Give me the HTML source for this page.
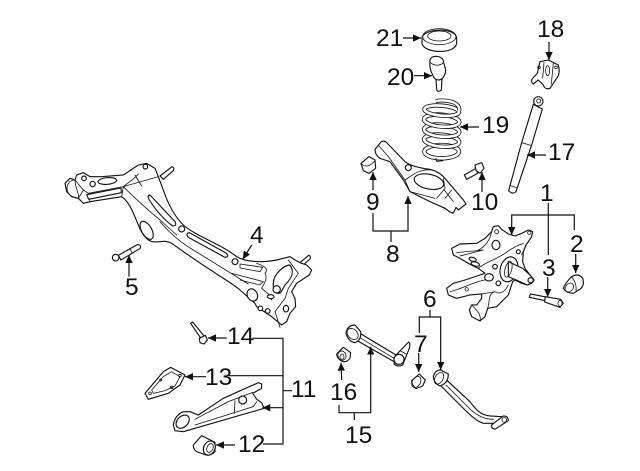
<!DOCTYPE html>
<html><head><meta charset="utf-8"><style>
html,body{margin:0;padding:0;background:#fff}
svg{display:block}
text{font-family:"Liberation Sans",sans-serif;font-size:24.5px;fill:#111}
.z{fill:#fff;stroke:#111;stroke-width:3.4;stroke-linejoin:round;stroke-linecap:round}
.n{fill:none;stroke:#111;stroke-width:2.4;stroke-linejoin:round;stroke-linecap:round}
</style></head><body>
<svg width="640" height="471" viewBox="0 0 640 471" xmlns="http://www.w3.org/2000/svg">
<defs><marker id="a" viewBox="0 0 8 8" refX="8" refY="4" markerWidth="8" markerHeight="8" markerUnits="userSpaceOnUse" orient="auto"><path d="M0,0.3L8,4L0,7.7Z" fill="#111"/></marker></defs>
<rect width="640" height="471" fill="#fff"/>

<!-- crossmember -->
<g transform="translate(50,150) scale(.3333)">
<path class="z" d="M330,78L366,50Q374,52 370,62L340,88Z"/>
<path class="z" d="M742,345L776,316Q784,318 780,327L752,352Z"/>
<path class="z" d="M45,100L60,85L75,90L80,75L100,68L120,80L155,80L220,75L265,45L290,40L315,55L325,80L340,120C355,165 375,200 400,225C440,260 510,280 560,320C590,338 650,340 700,325L720,320L735,330L755,340L770,345L785,360L778,375L740,400L725,425L735,445L737,470L720,490L710,515L695,525L665,500L620,470L615,460L570,420C540,395 510,380 490,365C450,340 400,305 365,280C340,265 320,285 295,270C270,250 265,220 250,190C240,165 230,150 215,140L120,155L100,160L85,145L65,140L50,125Z"/>
</g>
<g transform="translate(60,160) scale(.3333)">
<path class="n" d="M45,60C30,60 18,72 22,92C26,108 40,112 55,115C60,105 45,85 45,60ZM45,60L70,90L85,100L190,80L295,50M90,125L85,100M190,80L185,110M190,80C225,115 270,155 300,180L350,225M225,45L245,78M190,80C215,60 225,55 235,42M70,90L55,115"/>
<path class="z" d="M80,104L183,84L184,98L86,118Z"/>
<ellipse class="z" cx="142" cy="63" rx="28" ry="10" transform="rotate(-5 142 63)"/>
<circle class="z" cx="98" cy="72" r="8"/><circle class="z" cx="72" cy="55" r="7"/><circle class="z" cx="256" cy="20" r="7"/>
<path class="z" d="M270,105L345,185Q352,198 338,198Q300,170 268,120Q260,105 270,105Z"/>
<ellipse class="z" cx="260" cy="211" rx="15" ry="30" transform="rotate(-30 260 211)"/>
</g>
<g transform="translate(50,150) scale(.3333)">
<path class="n" d="M330,215C360,250 395,280 430,300L595,402"/>
<path class="z" d="M418,248L530,310Q538,322 525,322L415,262Q405,250 418,248Z"/>
<circle class="z" cx="395" cy="237" r="9"/>
</g>
<g transform="translate(220,250) scale(.3333)">
<circle class="z" cx="45" cy="35" r="9"/>
<path class="n" d="M60,42L128,52L120,65L60,54ZM35,70L130,95L120,105L60,90M110,40C140,50 145,60 135,70C145,85 130,105 125,115C140,130 150,130 155,150M205,30L235,70L205,115L195,145L165,185L180,232"/>
<path class="z" d="M160,100C160,70 195,45 210,45C225,65 215,85 195,105L182,128C170,135 158,125 160,100Z"/>
<circle class="z" cx="170" cy="118" r="11"/>
<ellipse class="z" cx="97" cy="135" rx="15" ry="19" transform="rotate(-25 97 135)"/>
<circle class="z" cx="121" cy="175" r="7"/><circle class="z" cx="143" cy="183" r="7"/><ellipse class="z" cx="198" cy="176" rx="8" ry="10"/><ellipse class="z" cx="152" cy="140" rx="10" ry="6"/>
</g>
<g transform="translate(50,150) scale(.3333)">
<path class="z" d="M205,316L262,284Q274,283 271,295L213,330Z"/>
<path class="n" d="M240,295L246,309"/>
<circle class="z" cx="197" cy="323" r="10"/>
</g>

<!-- upper right parts -->
<g transform="translate(340,10) scale(.3333)">
<path class="z" d="M246,85C246,55 350,50 350,85L350,100C345,135 250,130 246,100Z"/>
<ellipse class="n" cx="298" cy="80" rx="50" ry="24"/><ellipse class="n" cx="298" cy="78" rx="35" ry="15"/>
<path class="z" d="M288,208L306,208L304,240Q296,248 290,240Z"/>
<path class="z" d="M270,150C272,135 305,135 310,152C312,170 322,175 314,195C305,215 285,215 278,195C270,180 268,165 270,150Z"/>
<path class="n" d="M272,158C282,168 300,168 310,158"/>
<path class="z" d="M600,155L625,150L655,165Q662,190 650,205L630,235Q615,240 610,225L595,210L580,222Q570,215 578,205L592,190Z"/>
<path class="n" d="M612,158L608,205M640,160L634,222"/>
<ellipse class="n" cx="623" cy="182" rx="6" ry="15"/><circle class="n" cx="597" cy="172" r="4"/><circle class="n" cx="648" cy="172" r="4"/>
<path class="z" d="M580,283L607,297L575,405L528,545Q518,555 506,542L545,398Z"/>
<path class="n" d="M545,398L575,407M512,527L530,533"/>
<circle class="z" cx="595" cy="274" r="14"/><circle class="n" cx="596" cy="273" r="6"/>
<path class="z" d="M373,495L408,475L413,490L380,508Z"/>
<path class="z" d="M405,465L425,458L432,475L420,490L408,482Z"/>
</g>

<!-- spring -->
<g transform="translate(415,90) scale(.3333)" fill="none">
<ellipse cx="80" cy="185" rx="52" ry="20" stroke="#111" stroke-width="13"/><ellipse cx="80" cy="185" rx="52" ry="20" stroke="#fff" stroke-width="8"/>
<path d="M62,205L65,214L85,212" stroke="#111" stroke-width="3"/>
<ellipse cx="80" cy="152" rx="53" ry="18" stroke="#111" stroke-width="13" transform="rotate(5 80 152)"/><ellipse cx="80" cy="152" rx="53" ry="18" stroke="#fff" stroke-width="8" transform="rotate(5 80 152)"/>
<ellipse cx="80" cy="122" rx="53" ry="18" stroke="#111" stroke-width="13" transform="rotate(5 80 122)"/><ellipse cx="80" cy="122" rx="53" ry="18" stroke="#fff" stroke-width="8" transform="rotate(5 80 122)"/>
<ellipse cx="80" cy="92" rx="53" ry="18" stroke="#111" stroke-width="13" transform="rotate(5 80 92)"/><ellipse cx="80" cy="92" rx="53" ry="18" stroke="#fff" stroke-width="8" transform="rotate(5 80 92)"/>
<ellipse cx="80" cy="62" rx="52" ry="15" stroke="#111" stroke-width="13" transform="rotate(5 80 62)"/><ellipse cx="80" cy="62" rx="52" ry="15" stroke="#fff" stroke-width="8" transform="rotate(5 80 62)"/>
<path d="M62,33C95,28 135,35 133,62" stroke="#111" stroke-width="12"/><path d="M62,33C95,28 135,35 133,62" stroke="#fff" stroke-width="7"/>
</g>

<!-- arm 8 + bush 9 -->
<g transform="translate(355,130) scale(.3333)">
<path class="z" d="M60,58L78,36Q88,30 95,38L150,95C170,110 200,115 225,118C250,125 262,135 270,145L325,210L333,222L310,240L303,232L295,250L285,246L270,235L225,215L165,185L145,150L105,95L75,85Q60,75 60,58Z"/>
<path class="n" d="M72,48L100,80L150,150L180,130C195,122 215,118 230,120M150,150L165,185M265,145L270,175L245,205M240,205L165,185"/>
<ellipse class="z" cx="222" cy="155" rx="45" ry="22" transform="rotate(12 222 155)"/>
<circle class="z" cx="160" cy="113" r="9"/>
<path class="n" d="M268,180L295,215M290,180L270,205"/>
<path class="z" d="M18,100L42,80L60,90L62,115L42,130L25,122Z"/>
<path class="n" d="M20,102Q38,118 60,92"/>
</g>

<!-- knuckle -->
<g transform="translate(440,220) scale(.3333)">
<path class="z" d="M35,85L60,72L110,70L135,55L155,35L160,20L175,17L185,28L205,42L225,48L245,40L265,30L278,35L275,50L258,75L250,95L248,125L255,145L270,165L282,180L275,190L262,195L245,190L225,180L218,185L205,225L170,260L143,265L135,290L120,303L95,290L88,270L95,255L110,255L125,235L125,222L90,225L50,235L25,225L20,205L40,190L75,180L120,165L135,160L115,145L85,130L60,115L40,105Z"/>
<circle class="n" cx="170" cy="35" r="6"/><circle class="n" cx="268" cy="38" r="5"/>
<path class="n" d="M50,98L130,90L60,108M155,35C150,60 135,80 115,90M115,145C130,130 165,120 195,100C215,85 235,75 250,70M258,75L245,105M30,215C60,210 100,185 135,180M95,255C110,270 125,285 120,303M125,222L165,215C180,225 195,215 205,195M143,265C150,240 145,220 165,215"/>
<ellipse class="z" cx="168" cy="75" rx="12" ry="14"/>
<ellipse class="z" cx="98" cy="118" rx="11" ry="6" transform="rotate(15 98 118)"/><ellipse class="z" cx="106" cy="132" rx="13" ry="6" transform="rotate(15 106 132)"/>
<circle class="z" cx="235" cy="95" r="6"/><circle class="z" cx="165" cy="140" r="7"/><circle class="z" cx="175" cy="190" r="7"/>
<ellipse class="z" cx="147" cy="172" rx="13" ry="11"/><circle class="n" cx="80" cy="208" r="5"/>
<ellipse class="z" cx="207" cy="148" rx="26" ry="38" transform="rotate(15 207 148)"/>
<path class="z" d="M205,125L248,145L270,165L282,180L275,190L262,195L240,185L205,170Z"/>
<ellipse class="n" cx="205" cy="148" rx="10" ry="24" transform="rotate(15 205 148)"/>
<circle class="z" cx="272" cy="181" r="8"/>
</g>

<!-- bush 2, bolt 3 -->
<g transform="translate(400,180) scale(.3333)">
<path class="z" d="M515,290Q535,278 548,295Q555,315 540,328L520,340Q500,340 490,325Q495,310 515,290Z"/>
<ellipse class="n" cx="508" cy="323" rx="11" ry="15" transform="rotate(40 508 323)"/>
<path class="n" d="M515,290C525,305 530,315 528,333"/>
<path class="z" d="M391,342L437,351L436,362L388,352Z"/>
<path class="z" d="M436,350L482,358L490,370L480,382L434,366Z"/>
<ellipse class="n" cx="480" cy="370" rx="6" ry="9"/>
</g>

<!-- bolt 14, bush 12 -->
<g transform="translate(130,310) scale(.3333)">
<path class="z" d="M182,40L188,36L222,78L212,84Z"/>
<path class="z" d="M208,85L226,76L232,90L222,102L210,98Z"/>
<path class="z" d="M190,405L215,377L255,397L255,425Q240,440 225,434L200,425Q188,415 190,405Z"/>
<ellipse class="z" cx="238" cy="414" rx="17" ry="22" transform="rotate(25 238 414)"/>
<ellipse class="n" cx="240" cy="414" rx="9" ry="14" transform="rotate(25 240 414)"/>
</g>
<!-- bracket 13, arm 11 -->
<g transform="translate(140,360) scale(.3333)">
<path class="z" d="M15,100L70,35L92,22L135,45L120,75L85,100L25,118Z"/>
<path class="n" d="M35,90L70,50L95,35L120,50L105,78L75,92L40,100Z"/>
<circle class="n" cx="30" cy="100" r="4"/><circle class="n" cx="95" cy="82" r="4"/><circle class="n" cx="120" cy="47" r="4"/><circle class="n" cx="62" cy="60" r="3"/>
<path class="z" d="M100,195Q105,165 130,155L150,155L175,165L250,115L355,68L365,72L365,85L338,100L350,118L365,128L372,145L355,150L165,205L130,215L105,212Z"/>
<ellipse class="z" cx="128" cy="185" rx="16" ry="23" transform="rotate(45 128 185)"/>
<path class="n" d="M165,195L340,140L350,125M165,178L265,125L338,97M285,122L283,160"/>
<circle class="z" cx="308" cy="120" r="12"/>
</g>

<!-- link 15, bushes, arm 6 -->
<g transform="translate(320,290) scale(.3333)">
<path class="z" d="M120,130L228,195L222,215L108,150Z"/>
<path class="n" d="M118,142L222,205"/>
<path class="z" d="M228,195L266,156Q272,160 268,175L248,225Q235,232 222,222Z"/>
<path class="n" d="M240,182L258,192M234,192L252,204"/>
<circle class="z" cx="237" cy="208" r="15"/>
<path class="z" d="M78,130Q82,105 105,105L122,125Q125,150 105,158Q85,155 78,130Z"/>
<ellipse class="n" cx="98" cy="132" rx="14" ry="19" transform="rotate(-45 98 132)"/>
<path class="z" d="M50,192L70,172L92,188L90,205Q78,220 65,213Q50,205 50,192Z"/>
<ellipse class="n" cx="66" cy="197" rx="12" ry="14" transform="rotate(-20 66 197)"/><ellipse class="n" cx="66" cy="200" rx="6" ry="8"/>
<path class="z" d="M275,272L298,252L316,270L308,288L288,296Q275,285 275,272Z"/>
<ellipse class="n" cx="289" cy="276" rx="12" ry="18" transform="rotate(30 289 276)"/>
<path class="z" d="M382,272L450,335C470,362 485,376 510,378L545,380L545,400L490,400C465,392 440,365 420,345L362,287Z"/>
<path class="n" d="M378,285L435,342C465,375 490,388 520,388"/>
<path class="z" d="M340,260Q345,240 362,240L385,252Q385,280 360,288Q342,280 340,260Z"/>
<ellipse class="n" cx="357" cy="265" rx="12" ry="19" transform="rotate(30 357 265)"/>
<path class="z" d="M515,405L550,378Q565,378 565,392L525,418Q512,415 515,405Z"/>
<circle class="n" cx="553" cy="390" r="7"/>
</g>

<!-- leaders -->
<g fill="none" stroke="#111" stroke-width="1.2">
<path d="M403,38H421" marker-end="url(#a)"/>
<path d="M414,75.7H432" marker-end="url(#a)"/>
<path d="M479,127H460" marker-end="url(#a)"/>
<path d="M549,42V60" marker-end="url(#a)"/>
<path d="M546,155H527" marker-end="url(#a)"/>
<path d="M373,190V172" marker-end="url(#a)"/>
<path d="M482,192V172" marker-end="url(#a)"/>
<path d="M373,213V231H408V196" marker-end="url(#a)"/>
<path d="M391,231V242"/>
<path d="M251.7,245L242.7,259.3" marker-end="url(#a)"/>
<path d="M129,276.7V255" marker-end="url(#a)"/>
<path d="M548.3,203V255"/>
<path d="M511.7,235V215H574.3V230"/>
<path d="M511.7,227V235" marker-end="url(#a)"/>
<path d="M575.7,254V273" marker-end="url(#a)"/>
<path d="M547.7,277V297" marker-end="url(#a)"/>
<path d="M430,310V317"/>
<path d="M419.3,333V317H440.7V370" marker-end="url(#a)"/>
<path d="M418.7,353V372" marker-end="url(#a)"/>
<path d="M341.7,380L341,362.7" marker-end="url(#a)"/>
<path d="M339,405V412.7H370.7V346.7" marker-end="url(#a)"/>
<path d="M354.3,412.7V420"/>
<path d="M252.7,338.3H283V444H263M229,375.7H283M283,390.7H292"/>
<path d="M283,407.7H262.3" marker-end="url(#a)"/>
<path d="M226.7,338H208" marker-end="url(#a)"/>
<path d="M206,376.7H185" marker-end="url(#a)"/>
<path d="M235,445H216" marker-end="url(#a)"/>
</g>

<!-- labels -->
<text x="376" y="46">21</text>
<text x="387" y="85">20</text>
<text x="482" y="133">19</text>
<text x="537" y="37">18</text>
<text x="548" y="160">17</text>
<text x="366" y="210">9</text>
<text x="471" y="210">10</text>
<text x="540" y="201">1</text>
<text x="570" y="252">2</text>
<text x="542" y="276">3</text>
<text x="423" y="307">6</text>
<text x="414" y="352">7</text>
<text x="386" y="262">8</text>
<text x="250" y="243">4</text>
<text x="125" y="295">5</text>
<text x="227" y="344">14</text>
<text x="205" y="385">13</text>
<text x="291" y="397">11</text>
<text x="238" y="452">12</text>
<text x="330" y="400">16</text>
<text x="345" y="443">15</text>
</svg>
</body></html>
